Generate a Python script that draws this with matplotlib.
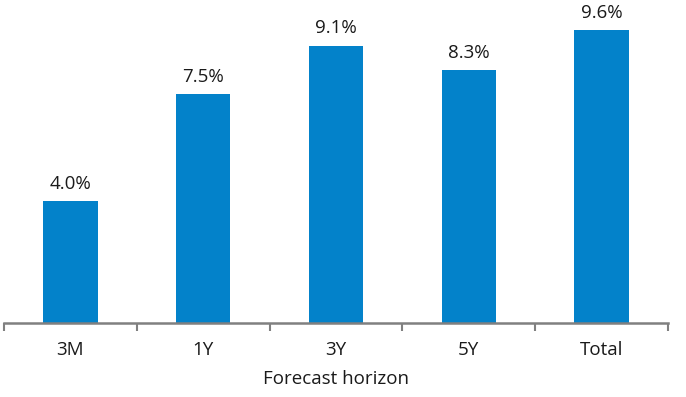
import matplotlib
matplotlib.use("Agg")
import matplotlib.pyplot as plt
import numpy as np

categories = ["3M", "1Y", "3Y", "5Y", "Total"]
values = [4.0, 7.5, 9.1, 8.3, 9.6]
xlabel = "Forecast horizon"

plt.rcParams['font.family'] = ['Open Sans', 'DejaVu Sans']

fig = plt.figure(figsize=(6.86, 3.97), dpi=100)
ax = fig.add_axes([4/686, 74/397, 664/686, 323/397])
x = np.arange(len(categories))
ax.bar(x, values, width=0.41, color="#0382CA")
for xi, v in zip(x, values):
    ax.text(xi, v + 0.28, f"{v:.1f}%", ha="center", va="bottom", fontsize=13.5, color="#1a1a1a")
ax.set_xlim(-0.5, len(categories) - 0.5)
ax.set_ylim(0, 10.6)
for s in ["top", "right", "left"]:
    ax.spines[s].set_visible(False)
ax.spines["bottom"].set_color("#808080")
ax.spines["bottom"].set_linewidth(1.8)
ax.set_yticks([])
ax.set_xticks(np.arange(-0.5, len(categories), 1.0), minor=False)
ax.set_xticklabels([])
ax.tick_params(axis="x", which="major", length=6, width=1.5, color="#808080", direction="out")
ax.set_xticks(x, minor=True)
ax.set_xticklabels(categories, minor=True)
ax.tick_params(axis="x", which="minor", length=0, pad=13, labelsize=13.5, labelcolor="#1a1a1a")
ax.set_xlabel(xlabel, fontsize=13.5, color="#1a1a1a", labelpad=8)
fig.savefig("out.png", dpi=100)
